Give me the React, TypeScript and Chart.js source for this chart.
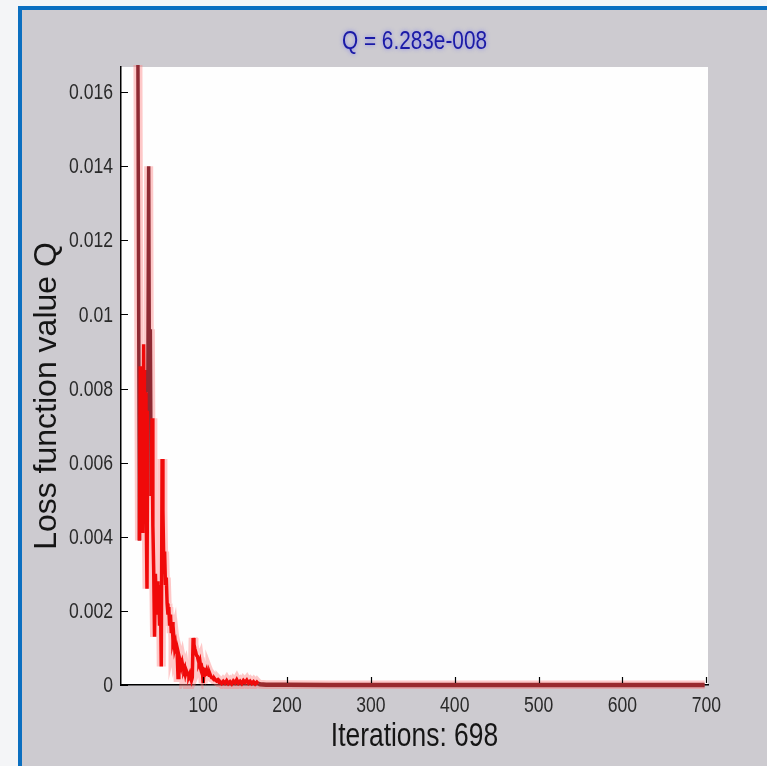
import React, { useEffect, useRef } from 'react';
import { Chart, registerables } from 'chart.js';

Chart.register(...registerables);

const TITLE = 'Q = 6.283e-008';
const X_LABEL = 'Iterations: 698';
const Y_LABEL = 'Loss function value Q';

const xTicks = [100, 200, 300, 400, 500, 600, 700];
const yTicks = [0, 0.002, 0.004, 0.006, 0.008, 0.01, 0.012, 0.014, 0.016];

const iterations = [
  1, 2, 4, 6, 8, 10, 12, 14, 16, 18, 20, 22,
  23, 24, 25, 26, 27, 28, 29, 30, 31, 32, 33, 34, 35, 36, 37, 38, 39, 40,
  41, 42, 43, 44, 45, 46, 47, 48, 49, 50, 51, 52, 53, 54, 55, 56, 57, 58, 59, 60,
  61, 62, 63, 64, 65, 66, 67, 68, 69, 70, 71, 72, 73, 74, 75, 76, 77, 78, 79, 80,
  81, 82, 83, 84, 85, 86, 87, 88, 89, 90, 91, 92, 93, 94, 95, 96, 97, 98, 99, 100,
  101, 102, 103, 104, 105, 106, 107, 108, 109, 110, 111, 112, 113, 114, 115, 116, 117, 118, 119, 120,
  122, 124, 126, 128, 130, 132, 134, 136, 138, 140, 142, 144, 146, 148, 150, 152, 154, 156, 158, 160,
  162, 164, 166, 168, 175, 200, 250, 300, 400, 500, 600, 698,
];

const lossValues = [
  0.42, 0.31, 0.19, 0.12, 0.08, 0.055, 0.04, 0.031, 0.026, 0.022, 0.0195, 0.0182,
  0.0107, 0.0039, 0.0086, 0.0043, 0.0083, 0.0041, 0.0092, 0.0046, 0.0085, 0.0049, 0.0026, 0.0079, 0.014, 0.0074, 0.0096, 0.0051, 0.0072, 0.0043,
  0.0031, 0.0013, 0.003, 0.0023, 0.0028, 0.0019, 0.0024, 0.0016, 0.0027, 0.0005, 0.0061, 0.0047, 0.0033, 0.0036, 0.0027, 0.0029, 0.0022, 0.0019, 0.0021, 0.0016,
  0.0019, 0.0014, 0.0017, 0.0012, 0.0013, 0.001, 0.0011, 0.0009, 0.00085, 0.0002, 0.0008, 0.0007, 0.00062, 0.0005, 0.0006, 0.00048, 0.0004, 0.00046, 0.0003, 0.00038,
  0.00032, 0.00028, 0.00024, 0.0003, 0.0002, 0.00012, 0.0002, 0.00127, 0.0011, 0.00098, 0.0009, 0.0008, 0.00078, 0.00068, 0.0006, 0.00066, 0.0005, 0.00052, 0.0004, 0.00005,
  0.00042, 0.0004, 0.00034, 0.0004, 0.0003, 0.00031, 0.00026, 0.0003, 0.00024, 0.0002, 0.0002, 0.00017, 0.00014, 0.00016, 0.00013, 0.00011, 0.00013, 0.0001, 0.00007, 0.00009,
  0.00004, 0.0001, 0.00005, 0.00012, 0.00004, 0.00009, 0.00003, 0.00011, 0.00006, 0.00014, 0.00005, 0.0001, 0.00004, 0.00012, 0.00007, 0.00013, 0.00005, 0.0001, 0.00004, 0.00009,
  0.00003, 0.00008, 0.00003, 0.00002, 0.00001, 0.000005, 0.000002, 0.000001, 0.0000008, 0.0000003, 0.00000015, 0.00000006283,
];

const SANS = '"Liberation Sans", Arial, Helvetica, sans-serif';
const NARROW_SCALE = 0.8;

function narrowText(ctx: CanvasRenderingContext2D, text: string, x: number, y: number) {
  ctx.save();
  ctx.translate(x, y);
  ctx.scale(NARROW_SCALE, 1);
  ctx.fillText(text, 0, 0);
  ctx.restore();
}

const formatY = (v: number) => String(+Number(v).toFixed(4));

const matlabPlugin = {
  id: 'matlabLook',
  beforeDraw(chart: any) {
    const { ctx, chartArea } = chart;
    ctx.save();
    ctx.fillStyle = '#fefefe';
    ctx.fillRect(chartArea.left, chartArea.top, chartArea.right - chartArea.left, chartArea.bottom - chartArea.top);
    ctx.restore();
  },
  afterDraw(chart: any) {
    const { ctx, chartArea, scales } = chart;
    const cx = (chartArea.left + chartArea.right) / 2;
    const cy = (chartArea.top + chartArea.bottom) / 2;
    ctx.save();
    // inward tick marks
    ctx.strokeStyle = '#000';
    ctx.lineWidth = 1.2;
    ctx.beginPath();
    scales.x.ticks.forEach((t: any) => {
      const px = Math.round(scales.x.getPixelForValue(t.value)) + 0.5;
      ctx.moveTo(px, chartArea.bottom - 2);
      ctx.lineTo(px, chartArea.bottom - 8);
    });
    scales.y.ticks.forEach((t: any) => {
      const py = Math.round(scales.y.getPixelForValue(t.value)) + 0.5;
      ctx.moveTo(chartArea.left, py);
      ctx.lineTo(chartArea.left + 7, py);
    });
    ctx.stroke();

    // tick labels (narrow Helvetica look)
    ctx.fillStyle = '#2a2a2a';
    ctx.font = `22px ${SANS}`;
    ctx.textBaseline = 'middle';
    ctx.textAlign = 'center';
    scales.x.ticks.forEach((t: any) => {
      narrowText(ctx, String(t.value), scales.x.getPixelForValue(t.value), chartArea.bottom + 21);
    });
    ctx.textAlign = 'right';
    scales.y.ticks.forEach((t: any) => {
      narrowText(ctx, formatY(t.value), chartArea.left - 8, scales.y.getPixelForValue(t.value) + 1);
    });

    // title
    ctx.textAlign = 'center';
    ctx.font = `26px ${SANS}`;
    ctx.shadowColor = 'rgba(90,90,255,0.6)';
    ctx.shadowBlur = 4;
    ctx.fillStyle = '#1a1aa6';
    narrowText(ctx, TITLE, cx, chartArea.top - 25);
    ctx.shadowBlur = 0;
    ctx.shadowColor = 'transparent';

    // x label
    ctx.fillStyle = '#151515';
    ctx.font = `33px ${SANS}`;
    narrowText(ctx, X_LABEL, cx, chartArea.bottom + 52);

    // y label
    ctx.translate(47, cy + 20);
    ctx.rotate(-Math.PI / 2);
    ctx.font = `32px ${SANS}`;
    ctx.fillText(Y_LABEL, 0, 0);
    ctx.restore();
  },
};

export default function App() {
  const ref = useRef<HTMLCanvasElement>(null);

  useEffect(() => {
    document.body.style.margin = '0';
    const canvas = ref.current;
    if (!canvas) return;
    const pts = iterations.map((x, i) => ({ x, y: lossValues[i] }));
    const chart = new Chart(canvas, {
      type: 'line',
      data: {
        datasets: [
          {
            data: pts,
            borderColor: '#f00a0a',
            borderWidth: 3.5,
            pointRadius: 0,
            tension: 0,
            clip: { left: 0, top: 2, right: 0, bottom: 3 } as any,
            segment: {
              borderColor: (c: any) => {
                const y0 = c.p0.parsed.y;
                const y1 = c.p1.parsed.y;
                if (c.p0.parsed.x >= 166) return '#9a2a2e';
                if (y0 > 0.0095 || y1 > 0.0095) return '#8e2a33';
                return '#f00a0a';
              },
              borderWidth: (c: any) => (c.p0.parsed.x >= 166 ? 4.5 : 3.5),
            },
          },
          {
            data: pts,
            borderColor: 'rgba(255,120,120,0.4)',
            borderWidth: 9,
            pointRadius: 0,
            tension: 0,
            clip: { left: 0, top: 2, right: 0, bottom: 4 } as any,
          },
        ],
      },
      options: {
        responsive: false,
        animation: false,
        events: [],
        layout: { padding: { top: 67, right: 59, bottom: 0, left: 0 } },
        plugins: {
          legend: { display: false },
          tooltip: { enabled: false },
          title: { display: false },
        },
        scales: {
          x: {
            type: 'linear',
            min: 2,
            max: 702,
            grid: { display: false, drawTicks: false },
            border: { display: true, color: '#000', width: 1.5 },
            ticks: { display: false },
            afterBuildTicks: (s: any) => {
              s.ticks = xTicks.map((v) => ({ value: v }));
            },
            afterFit: (s: any) => {
              s.height = 81;
            },
          },
          y: {
            type: 'linear',
            min: 0,
            max: 0.01668,
            grid: { display: false, drawTicks: false },
            border: { display: true, color: '#000', width: 1.5 },
            ticks: { display: false },
            afterBuildTicks: (s: any) => {
              s.ticks = yTicks.map((v) => ({ value: v }));
            },
            afterFit: (s: any) => {
              s.width = 121;
            },
          },
        },
      },
      plugins: [matlabPlugin],
    });
    return () => chart.destroy();
  }, []);

  return (
    <div style={{ position: 'absolute', left: 0, top: 0, width: 767, height: 766, background: '#f4f5f7', overflow: 'hidden' }}>
      <div
        style={{
          position: 'absolute',
          left: 18,
          top: 6,
          width: 760,
          height: 770,
          boxSizing: 'border-box',
          background: '#cdcbd0',
          borderLeft: '4px solid #0b6fc0',
          borderTop: '4px solid #0b6fc0',
        }}
      />
      <canvas ref={ref} width={767} height={766} style={{ position: 'absolute', left: 0, top: 0 }} />
    </div>
  );
}
